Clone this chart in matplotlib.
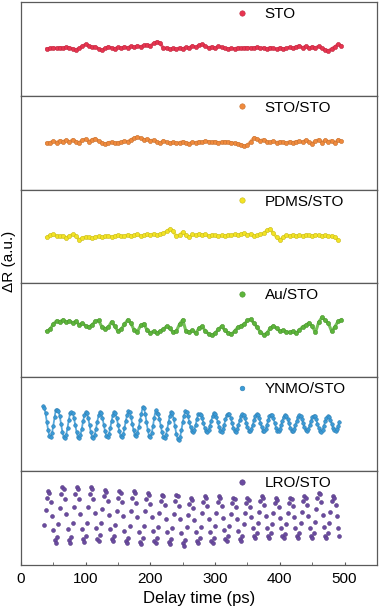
import numpy as np
import matplotlib
matplotlib.use("Agg")
import matplotlib.pyplot as plt
from matplotlib.ticker import MultipleLocator

plt.rcParams["font.family"] = ["Liberation Sans", "DejaVu Sans"]

# ---- data (ΔR in a.u.) ----
labels = ["STO", "STO/STO", "PDMS/STO", "Au/STO", "YNMO/STO", "LRO/STO"]
colors = ["#e8334f", "#f08a3c", "#f3e324", "#5cb53a", "#3a9bd8", "#6a4aa0"]

# noise traces, sampled every 5 ps starting at 40 ps
sto = [0.0, 0.05, 0.1, 0.05, 0.12, 0.08, 0.15, 0.1, 0.0, -0.1, 0.05, 0.25, 0.45, 0.3,
       0.15, 0.2, 0.0, -0.15, 0.05, 0.2, 0.1, 0.0, 0.15, 0.05, 0.2, 0.1, 0.25, 0.15,
       0.3, 0.2, 0.35, 0.4, 0.3, 0.55, 0.7, 0.6, 0.05, 0.1, -0.05, 0.05, -0.05, 0.1,
       0.0, 0.15, 0.1, 0.3, 0.15, 0.35, 0.45, 0.25, 0.1, 0.2, 0.05, 0.25, 0.15, 0.05,
       0.0, 0.05, 0.0, 0.1, 0.05, 0.1, 0.12, 0.08, 0.1, 0.15, 0.05, 0.1, 0.0, 0.12,
       0.05, -0.05, 0.1, 0.0, 0.05, 0.15, 0.05, 0.2, 0.3, 0.1, 0.25, 0.05, 0.2, 0.1,
       0.25, 0.05, -0.1, -0.2, 0.0, 0.2, 0.45, 0.3]
sto_sto = [-0.05, 0.0, 0.15, 0.0, 0.2, 0.1, 0.25, 0.05, 0.3, 0.1, 0.0, 0.25, 0.35, 0.1,
           0.3, 0.4, 0.15, 0.0, -0.15, 0.0, 0.05, -0.05, 0.0, 0.05, 0.15, 0.1, 0.3,
           0.45, 0.55, 0.45, 0.3, 0.35, 0.2, 0.25, 0.1, -0.05, 0.2, 0.05, -0.05, 0.05,
           -0.05, 0.0, 0.1, 0.0, -0.1, 0.05, 0.0, 0.1, 0.05, 0.15, 0.1, 0.05, 0.1, 0.0,
           0.05, 0.1, 0.05, 0.0, -0.05, -0.1, -0.2, -0.35, -0.25, 0.1, 0.5, 0.35, 0.2,
           0.3, 0.1, 0.05, 0.15, 0.0, 0.1, 0.05, -0.05, 0.1, 0.0, 0.1, 0.15, 0.05, 0.25,
           0.05, -0.1, 0.15, 0.3, 0.0, 0.25, 0.1, 0.2, -0.05, 0.3, 0.15]
pdms = [-0.1, 0.1, 0.2, 0.05, 0.0, 0.05, -0.15, 0.05, 0.2, 0.05, -0.35, -0.15, -0.05,
        -0.1, -0.2, -0.05, 0.0, -0.1, 0.0, 0.05, -0.05, 0.05, 0.1, 0.0, 0.05, 0.15,
        0.05, 0.1, 0.2, 0.05, 0.1, 0.2, 0.15, 0.25, 0.1, 0.2, 0.3, 0.5, 0.75, 0.55, 0.0,
        0.15, 0.45, 0.1, -0.1, 0.2, 0.1, 0.25, 0.15, 0.2, 0.05, 0.15, 0.1, 0.0, 0.1,
        0.05, 0.15, 0.1, 0.2, 0.1, 0.25, 0.3, 0.15, 0.25, 0.05, 0.1, 0.2, 0.3, 0.6,
        0.75, 0.3, -0.1, -0.35, -0.1, 0.1, 0.05, 0.15, 0.0, 0.1, 0.05, 0.15, 0.1, 0.05,
        0.15, 0.1, 0.05, 0.1, 0.0, 0.05, -0.1, -0.35]
au = [-0.1, 0.1, 0.6, 0.95, 0.85, 1.05, 0.8, 0.95, 0.75, 0.9, 0.55, 0.7, 0.45, 0.3,
      0.55, 0.9, 1.0, 0.35, 0.15, 0.3, 0.85, 0.4, -0.1, 0.1, 0.6, 1.05, 0.7, 0.0, -0.15,
      0.5, 0.65, 0.0, -0.25, -0.1, -0.3, -0.1, 0.1, 0.4, 0.2, -0.2, -0.1, 0.6, 1.05,
      -0.1, -0.2, 0.0, -0.3, 0.2, 0.4, -0.1, -0.35, -0.5, -0.3, 0.1, 0.4, 0.0, -0.25,
      -0.4, -0.1, 0.3, 0.45, 0.6, 1.0, 1.1, 0.7, 0.3, -0.2, -0.45, -0.3, 0.2, 0.45, 0.2,
      -0.1, 0.0, -0.15, -0.2, -0.1, -0.3, 0.0, 0.35, 0.5, 0.75, 0.4, -0.2, 0.8, 1.3, 1.0,
      0.7, -0.1, 0.35, 0.9, 1.05]

# oscillating traces, sampled every 2 ps
ynmo = [1.78, 1.66, 1.09, 0.25, -0.59, -1.16, -1.28, -0.92, -0.19, 0.69, 1.42,
        1.44, 1.32, 0.80, 0.03, -0.75, -1.27, -1.39, -1.05, -0.38, 0.43, 1.10,
        1.19, 1.08, 0.60, -0.10, -0.80, -1.28, -1.39, -1.08, -0.47, 0.27, 0.88,
        1.18, 1.09, 0.61, -0.09, -0.81, -1.27, -1.40, -1.07, -0.46, 0.26, 0.89,
        1.19, 1.09, 0.63, -0.05, -0.73, -1.19, -1.29, -1.00, -0.40, 0.30, 0.90,
        1.20, 1.08, 0.62, -0.06, -0.72, -1.20, -1.28, -1.01, -0.39, 0.31, 0.89,
        1.29, 1.19, 0.73, 0.05, -0.63, -1.09, -1.19, -0.90, -0.30, 0.40, 0.99,
        1.73, 1.61, 1.05, 0.23, -0.60, -1.16, -1.29, -0.93, -0.21, 0.66, 1.38,
        1.09, 0.99, 0.53, -0.15, -0.83, -1.29, -1.39, -1.10, -0.50, 0.20, 0.80,
        1.19, 1.07, 0.56, -0.20, -0.96, -1.47, -1.59, -1.26, -0.60, 0.20, 0.86,
        1.29, 1.21, 0.82, 0.25, -0.32, -0.71, -0.79, -0.54, -0.05, 0.55, 1.04,
        0.99, 0.92, 0.59, 0.10, -0.39, -0.72, -0.79, -0.58, -0.15, 0.35, 0.78,
        1.14, 1.06, 0.71, 0.20, -0.31, -0.66, -0.74, -0.52, -0.07, 0.47, 0.92,
        1.04, 0.97, 0.64, 0.15, -0.34, -0.67, -0.74, -0.53, -0.10, 0.40, 0.83,
        1.02, 0.95, 0.63, 0.15, -0.33, -0.65, -0.72, -0.52, -0.10, 0.40, 0.82,
        1.03, 0.94, 0.62, 0.14, -0.32, -0.66, -0.73, -0.51, -0.09, 0.39, 0.81,
        0.96, 0.89, 0.58, 0.12, -0.34, -0.65, -0.72, -0.52, -0.12, 0.36, 0.76,
        0.91, 0.85, 0.54, 0.10, -0.34, -0.65, -0.71, -0.52, -0.13, 0.33, 0.72,
        0.89, 0.83, 0.53, 0.10, -0.33, -0.63, -0.69, -0.50, -0.13, 0.33, 0.70,
        0.84, 0.78, 0.48, 0.05, -0.38, -0.68, -0.74, -0.55, -0.18, 0.28, 0.65,
        0.79, 0.73, 0.46, 0.05, -0.36, -0.63, -0.69, -0.52, -0.21, 0.26]
lro = [-0.70, 0.76, 2.02, 2.66, 2.49, 1.57, 0.17, -1.24, -2.23, -2.48, -1.91,
       -0.57, 1.01, 2.36, 3.06, 2.88, 1.88, 0.38, -1.14, -2.21, -2.48, -1.87,
       -0.50, 1.05, 2.38, 3.06, 2.88, 1.90, 0.43, -1.07, -2.12, -2.38, -1.78,
       -0.47, 1.07, 2.38, 3.06, 2.88, 1.91, 0.45, -1.03, -2.07, -2.33, -1.73,
       -0.55, 0.91, 2.17, 2.81, 2.64, 1.72, 0.32, -1.09, -2.08, -2.33, -1.76,
       -0.74, 0.74, 2.01, 2.66, 2.49, 1.56, 0.15, -1.28, -2.28, -2.53, -1.96,
       -0.80, 0.70, 2.00, 2.66, 2.49, 1.54, 0.10, -1.36, -2.37, -2.63, -2.05,
       -0.79, 0.65, 1.88, 2.51, 2.35, 1.44, 0.07, -1.32, -2.29, -2.53, -1.97,
       -0.92, 0.49, 1.69, 2.31, 2.15, 1.26, -0.08, -1.44, -2.39, -2.63, -2.08,
       -1.02, 0.43, 1.67, 2.31, 2.15, 1.23, -0.15, -1.55, -2.53, -2.78, -2.22,
       -0.95, 0.32, 1.41, 1.97, 1.82, 1.02, -0.19, -1.41, -2.27, -2.49, -1.99,
       -0.88, 0.45, 1.58, 2.16, 2.01, 1.18, -0.08, -1.36, -2.26, -2.49, -1.97,
       -0.78, 0.50, 1.60, 2.17, 2.02, 1.21, -0.01, -1.25, -2.12, -2.34, -1.84,
       -0.83, 0.41, 1.47, 2.02, 1.88, 1.09, -0.09, -1.29, -2.12, -2.34, -1.85,
       -0.62, 0.51, 1.47, 1.97, 1.84, 1.13, 0.06, -1.03, -1.79, -1.99, -1.55,
       -0.55, 0.63, 1.65, 2.17, 2.03, 1.29, 0.16, -0.98, -1.78, -1.99, -1.53,
       -0.64, 0.49, 1.45, 1.95, 1.82, 1.11, 0.04, -1.05, -1.81, -2.01, -1.57,
       -0.60, 0.54, 1.52, 2.02, 1.89, 1.17, 0.08, -1.02, -1.79, -1.99, -1.54,
       -0.55, 0.63, 1.65, 2.17, 2.03, 1.29, 0.16, -0.98, -1.78, -1.99, -1.53,
       -0.43, 0.85, 1.95, 2.52, 2.37, 1.56, 0.34, -0.90, -1.77, -1.99, -1.49,
       -0.55, 0.63, 1.65, 2.17, 2.03, 1.29, 0.16, -0.98, -1.78]

series = [sto, sto_sto, pdms, au, ynmo, lro]
t_start = [40, 40, 40, 40, 34, 36]
t_step = [5, 5, 5, 5, 2, 2]

fig, axes = plt.subplots(6, 1, figsize=(3.8, 6.14), dpi=100, sharex=True)
fig.subplots_adjust(left=0.055, right=0.992, top=0.997, bottom=0.08, hspace=0)

for i, ax in enumerate(axes):
    y = np.array(series[i])
    t = t_start[i] + t_step[i] * np.arange(len(y))
    dark = [c * 0.82 for c in matplotlib.colors.to_rgb(colors[i])]
    if i < 5:
        # dense dotted trace: underlying line fills gaps between samples
        ax.plot(t, y, "-", color=colors[i], lw=2.2 if i < 4 else 1.3,
                alpha=0.85, zorder=2)
        ax.plot(t, y, "o", ms=3.0 if i < 4 else 2.6, color=colors[i], mec=dark,
                mew=0.4, label=labels[i], zorder=3)
    else:
        ax.plot(t, y, "o", ms=2.8, color=colors[i], mec=dark, mew=0.4,
                label=labels[i], zorder=3)
    ax.set_ylim(-4.7, 4.7)
    ax.set_yticks([])
    for sp in ax.spines.values():
        sp.set_color("#5a5a5a")
        sp.set_linewidth(0.9)
    ax.tick_params(axis="x", which="both", bottom=(i == 5), top=False,
                   direction="in", length=2.2, color="#5a5a5a", labelsize=11,
                   pad=5)
    ax.legend(loc="center left", bbox_to_anchor=(0.599, 0.872), frameon=False,
              borderpad=0, borderaxespad=0, handlelength=1.0, handletextpad=1.0,
              markerscale=1.3 if i < 5 else 1.4, fontsize=11)

ax = axes[-1]
ax.set_xlim(0, 550)
ax.xaxis.set_major_locator(MultipleLocator(100))
ax.xaxis.set_minor_locator(MultipleLocator(50))
ax.set_xticks([0, 100, 200, 300, 400, 500])
ax.set_xlabel("Delay time (ps)", fontsize=12, labelpad=4)
fig.text(0.024, 0.574, "ΔR (a.u.)", rotation=90, va="center", ha="center",
         fontsize=11)

fig.savefig("out.png", dpi=100)
